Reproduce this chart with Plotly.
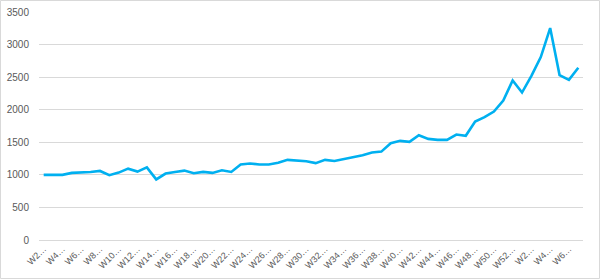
import plotly.graph_objects as go

weeks = ["W2", "W3", "W4", "W5", "W6", "W7", "W8", "W9", "W10", "W11", "W12", "W13",
         "W14", "W15", "W16", "W17", "W18", "W19", "W20", "W21", "W22", "W23", "W24",
         "W25", "W26", "W27", "W28", "W29", "W30", "W31", "W32", "W33", "W34", "W35",
         "W36", "W37", "W38", "W39", "W40", "W41", "W42", "W43", "W44", "W45", "W46",
         "W47", "W48", "W49", "W50", "W51", "W52",
         "W1 ", "W2 ", "W3 ", "W4 ", "W5 ", "W6 ", "W7 "]

values = [1000, 1000, 1000, 1030, 1035, 1045, 1060, 995, 1035, 1095, 1050, 1115,
          930, 1020, 1045, 1065, 1025, 1045, 1030, 1070, 1045, 1160, 1175, 1160,
          1160, 1185, 1230, 1215, 1210, 1180, 1230, 1214, 1240, 1271, 1301, 1342,
          1357, 1486, 1522, 1506, 1609, 1552, 1537, 1537, 1619, 1600, 1818, 1886,
          1972, 2141, 2449, 2264, 2521, 2808, 3254, 2531, 2459, 2644]

tick_labels = [w.strip() + "…" for w in weeks]

fig = go.Figure()
fig.add_trace(go.Scatter(
    x=list(range(len(weeks))), y=values, mode="lines",
    line=dict(color="#00B0F0", width=2.6),
    hoverinfo="y",
))

W, H = 600, 279
ml, mr, mt, mb = 39, 17, 12, 39
pw, ph = W - ml - mr, H - mt - mb

fig.update_layout(
    width=W, height=H,
    margin=dict(l=ml, r=mr, t=mt, b=mb),
    paper_bgcolor="white", plot_bgcolor="white",
    showlegend=False,
    font=dict(family="Liberation Sans, Arial, sans-serif", size=10, color="#595959"),
    xaxis=dict(
        range=[-0.5, len(weeks) - 0.5],
        tickmode="array",
        tickvals=list(range(0, len(weeks), 2)),
        ticktext=tick_labels[0::2],
        tickangle=-45,
        showgrid=False, zeroline=False, showline=False,
        ticks="", ticklabelstandoff=1,
        tickfont=dict(size=9, color="#595959"),
        automargin=False,
        fixedrange=True,
    ),
    yaxis=dict(
        range=[0, 3500], dtick=500,
        showgrid=True, gridcolor="#D9D9D9", gridwidth=1,
        zeroline=True, zerolinecolor="#D9D9D9", zerolinewidth=1,
        showline=False, ticks="",
        ticklabelstandoff=9,
        tickfont=dict(size=10, color="#595959"),
        automargin=False,
        fixedrange=True,
    ),
    shapes=[dict(
        type="rect", xref="paper", yref="paper",
        x0=(0.5 - ml) / pw, x1=(W - 0.5 - ml) / pw,
        y0=-(H - 0.5 - (H - mb)) / ph, y1=1 + (mt - 0.5) / ph,
        line=dict(color="#D9D9D9", width=1), fillcolor="rgba(0,0,0,0)",
        layer="below",
    )],
)

fig.write_html("out.html")
